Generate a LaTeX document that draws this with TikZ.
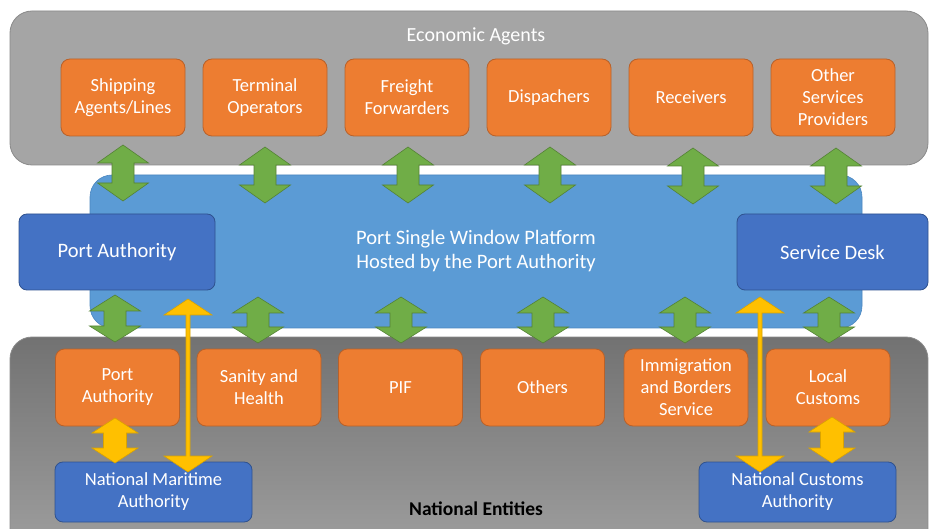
\documentclass[tikz,border=0pt]{standalone}
\usepackage{fontspec}
\setmainfont{Carlito}
\definecolor{orgfill}{HTML}{ED7D31}
\definecolor{orgline}{HTML}{B8612A}
\definecolor{platfill}{HTML}{5B9BD5}
\definecolor{platline}{HTML}{4A86C0}
\definecolor{dbfill}{HTML}{4472C4}
\definecolor{dbline}{HTML}{2F528F}
\definecolor{grtop}{HTML}{A5A5A5}
\definecolor{grline}{HTML}{8A8A8A}
\definecolor{grdtop}{HTML}{727272}
\definecolor{grdbot}{HTML}{A0A0A0}
\definecolor{grnfill}{HTML}{70AD47}
\definecolor{grnline}{HTML}{548235}
\definecolor{ylwfill}{HTML}{FFC000}
\definecolor{ylwline}{HTML}{D9A300}
\tikzset{
  orangebox/.style={rounded corners=9, fill=orgfill, draw=orgline, line width=0.8,
    text=white, font=\fontsize{18.5}{22}\selectfont, align=center, inner sep=0,
    minimum width=124, minimum height=77},
  darkbox/.style={rounded corners=8, fill=dbfill, draw=dbline, line width=0.8,
    text=white, align=center, inner sep=0},
  greenarrow/.style={fill=grnfill, draw=grnline, line width=0.6},
  yellowarrow/.style={fill=ylwfill, draw=ylwline, line width=0.6},
}
% #1 style, #2 cx, #3 ytop, #4 ybot, #5 half head, #6 half shaft, #7 head length
\newcommand\vdarrow[7]{%
  \draw[#1] (#2,#3) -- (#2+#5,#3+#7) -- (#2+#6,#3+#7) -- (#2+#6,#4-#7)
    -- (#2+#5,#4-#7) -- (#2,#4) -- (#2-#5,#4-#7) -- (#2-#6,#4-#7)
    -- (#2-#6,#3+#7) -- (#2-#5,#3+#7) -- cycle;}
\begin{document}
\begin{tikzpicture}[x=1pt,y=-1pt]
\clip (0,0) rectangle (929,529);
\fill[white] (0,0) rectangle (929,529);
% panels
\draw[fill=grtop, draw=grline, line width=0.8, rounded corners=22] (10,11) rectangle (928,165);
\node[text=white, font=\fontsize{20}{24}\selectfont] (ea) at (476,36) {Economic Agents};
\draw[top color=grdtop, bottom color=grdbot, draw=grline, line width=0.8, rounded corners=22] (10,337) rectangle (928,560);
\node[text=black, font=\fontsize{19.5}{24}\selectfont\bfseries] (ne) at (476,509) {National Entities};
% platform
\node[rounded corners=22, fill=platfill, draw=platline, line width=0.6, inner sep=0,
  minimum width=772, minimum height=153, text=white, align=center,
  font=\fontsize{20.5}{24}\selectfont] (psw) at (476,251.5)
  {Port Single Window Platform\\Hosted by the Port Authority};
\node[darkbox, minimum width=196, minimum height=76, font=\fontsize{20.5}{24}\selectfont] (pa) at (117,252) {Port Authority};
\node[darkbox, minimum width=191, minimum height=76, font=\fontsize{20.5}{24}\selectfont] (sd) at (832.5,252) {Service Desk};
% top row
\node[orangebox] (t1) at (123,97.5) {Shipping\\Agents/Lines};
\node[orangebox] (t2) at (265,97.5) {Terminal\\Operators};
\node[orangebox] (t3) at (407,97.5) {Freight\\Forwarders};
\node[orangebox] (t4) at (549,97.5) {Dispachers};
\node[orangebox] (t5) at (691,97.5) {Receivers};
\node[orangebox] (t6) at (833,97.5) {Other\\Services\\Providers};
% bottom row
\node[orangebox] (b1) at (117.5,387.5) {Port\\Authority};
\node[orangebox] (b2) at (259,387.5) {Sanity and\\Health};
\node[orangebox] (b3) at (400.5,387.5) {PIF};
\node[orangebox] (b4) at (542.5,387.5) {Others};
\node[orangebox] (b5) at (686,387.5) {Immigration\\and Borders\\Service};
\node[orangebox] (b6) at (828,387.5) {Local\\Customs};
% national authorities
\node[darkbox, minimum width=197, minimum height=60, font=\fontsize{18.5}{22}\selectfont] (nma) at (153.5,492) {National Maritime\\Authority};
\node[darkbox, minimum width=197, minimum height=60, font=\fontsize{18.5}{22}\selectfont] (nca) at (797.5,492) {National Customs\\Authority};
% green arrows top
\vdarrow{greenarrow}{123}{145}{201}{25.5}{11}{18}
\vdarrow{greenarrow}{265}{147}{203}{25.5}{11}{18}
\vdarrow{greenarrow}{408}{147}{203}{25.5}{11}{18}
\vdarrow{greenarrow}{550}{147}{203}{25.5}{11}{18}
\vdarrow{greenarrow}{693}{148}{204}{25.5}{11}{18}
\vdarrow{greenarrow}{836}{148}{204}{25.5}{11}{18}
% green arrows bottom
\vdarrow{greenarrow}{115}{295}{342}{25.5}{11}{16}
\vdarrow{greenarrow}{258}{297}{343}{25.5}{11}{16}
\vdarrow{greenarrow}{401}{297}{343}{25.5}{11}{16}
\vdarrow{greenarrow}{543}{297}{343}{25.5}{11}{16}
\vdarrow{greenarrow}{685}{297}{343}{25.5}{11}{16}
\vdarrow{greenarrow}{829}{297}{343}{25.5}{11}{16}
% yellow arrows
\vdarrow{yellowarrow}{115}{418}{463}{23}{11.5}{15}
\vdarrow{yellowarrow}{832}{417}{463}{23}{11.5}{15}
\vdarrow{yellowarrow}{188}{299}{472}{24}{2}{16}
\vdarrow{yellowarrow}{760}{297}{472}{24}{2}{16}
\end{tikzpicture}
\end{document}
